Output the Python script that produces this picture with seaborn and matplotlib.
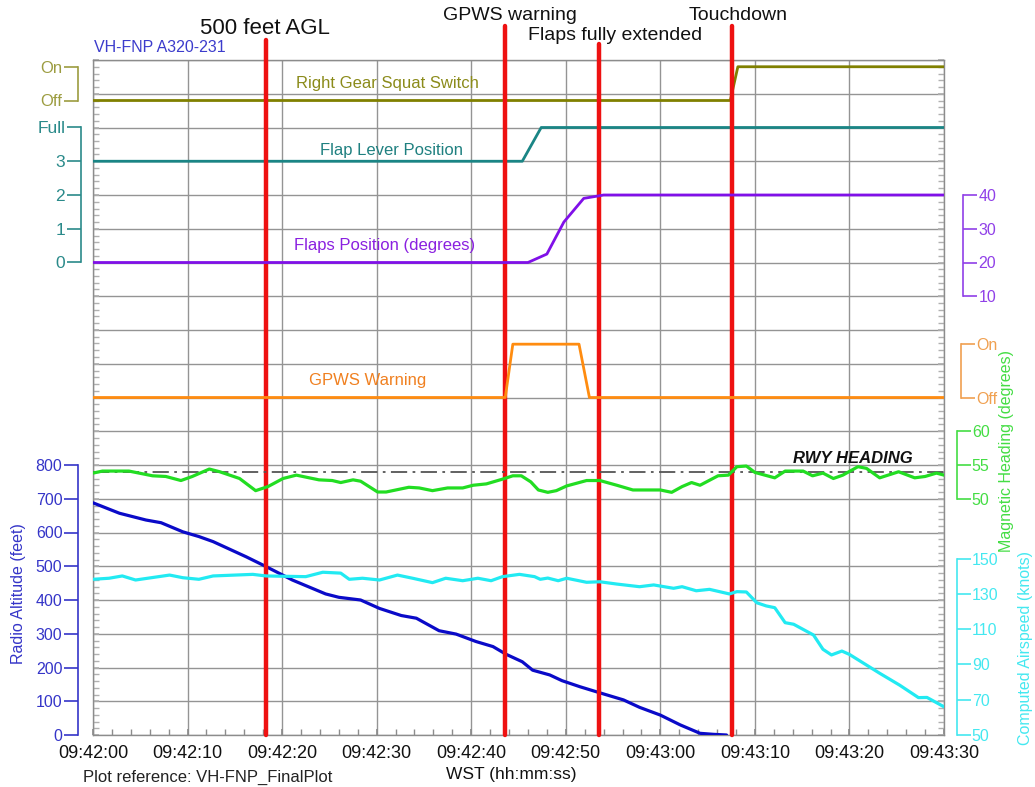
import matplotlib
matplotlib.use("Agg")
import matplotlib.pyplot as plt
from matplotlib.ticker import FuncFormatter, MultipleLocator
import seaborn as sns

# ── Data (seconds after 09:42:00) ─────────────────────────────────────────────
squat_t = [0, 67.4, 68.2, 90]
squat_v = [0, 0, 1, 1]

lever_t = [0, 45.4, 47.4, 90]
lever_v = [3, 3, 4, 4]

flaps_t = [0, 46.0, 48.0, 49.8, 51.9, 53.4, 54.0, 90]
flaps_v = [20, 20, 22.5, 32, 39, 39.7, 40, 40]

gpws_t = [0, 43.6, 44.4, 51.4, 52.5, 90]
gpws_v = [0, 0, 1, 1, 0, 0]

hdg_t = [0, 1.0, 3.8, 6.3, 7.7, 9.3, 10.5, 12.3, 13.4, 15.5,
         17.2, 18.5, 20.1, 21.5, 23.9, 25.3, 26.2, 27.5, 28.3, 30.1,
         31.0, 33.4, 34.5, 35.9, 37.5, 39.1, 40.2, 41.6, 43.3, 44.4,
         45.3, 46.3, 47.1, 48.1, 49.0, 50.1, 52.2, 53.6, 55.4, 57.1,
         60.0, 61.2, 62.3, 63.3, 64.2, 66.1, 67.2, 68.1, 69.1, 70.0,
         72.1, 73.2, 75.1, 76.1, 77.2, 78.3, 79.3, 80.9, 81.8, 83.2,
         85.2, 86.9, 88.0, 89.2, 90]
hdg_v = [53.8, 54.1, 54.1, 53.4, 53.3, 52.7, 53.3, 54.4, 54.0, 53.0,
         51.2, 51.8, 53.0, 53.5, 52.8, 52.7, 52.4, 52.8, 52.6, 51.0,
         51.0, 51.7, 51.6, 51.2, 51.6, 51.6, 52.0, 52.2, 52.9, 53.4,
         53.4, 52.5, 51.3, 50.95, 51.2, 51.9, 52.7, 52.7, 52.0, 51.3,
         51.3, 50.95, 51.8, 52.4, 52.0, 53.4, 53.5, 54.75, 54.85, 53.9,
         53.1, 54.1, 54.1, 53.4, 53.8, 53.0, 53.5, 54.75, 54.5, 53.1,
         54.0, 53.1, 53.3, 53.8, 53.5]
rwy_heading = 54.0

spd_t = [0, 1.7, 3.1, 4.5, 8.1, 9.5, 11.2, 12.7, 16.9, 18.3,
         22.5, 24.3, 26.2, 27.1, 28.5, 30.3, 32.2, 33.8, 35.9, 37.3,
         39.1, 40.7, 42.1, 43.3, 45.1, 46.7, 47.3, 48.1, 49.2, 50.1,
         52.2, 53.6, 55.4, 57.8, 59.3, 61.4, 62.3, 63.8, 65.2, 67.3,
         68.1, 69.1, 70.2, 71.2, 72.1, 73.2, 74.1, 76.2, 77.2, 78.1,
         79.2, 80.0, 83.2, 85.3, 87.3, 88.2, 90]
spd_v = [138.3, 138.9, 140.2, 137.9, 140.7, 139.2, 138.3, 140.2, 141.1, 140.2,
         139.8, 142.3, 141.8, 138.3, 138.9, 137.9, 140.7, 138.9, 136.4, 138.9,
         137.5, 138.9, 137.5, 139.8, 141.1, 139.8, 138.3, 139.0, 137.5, 138.9,
         136.6, 136.9, 135.6, 134.1, 135.1, 133.2, 134.1, 131.8, 132.6, 130.0,
         131.3, 131.1, 125.0, 123.2, 122.2, 113.7, 112.8, 106.7, 98.6, 95.4,
         97.6, 95.7, 85.0, 78.3, 71.2, 71.3, 66.0]

alt_t = [0, 2.8, 5.6, 7.2, 9.5, 11.2, 12.7, 16.2, 18.3, 21.1,
         24.6, 26.0, 28.3, 30.3, 32.6, 34.2, 36.6, 38.4, 40.5, 42.3,
         43.7, 45.4, 46.5, 48.3, 49.6, 51.5, 53.6, 56.1, 57.8, 60.0,
         62.1, 64.2, 65.6, 67.0]
alt_v = [688, 657, 637, 629, 602, 588, 573, 528, 499, 459,
         418, 408, 400, 375, 354, 346, 309, 299, 277, 262,
         239, 217, 192, 178, 161, 143, 125, 104, 82, 59,
         30, 5, 2, 0]

event_t = [18.3, 43.6, 53.5, 67.55]
event_labels = ["500 feet AGL", "GPWS warning", "Flaps fully extended", "Touchdown"]

# ── Style ─────────────────────────────────────────────────────────────────────
sns.set_theme(style="white")
plt.rcParams["font.family"] = ["Liberation Sans", "DejaVu Sans"]

W, H = 1035, 787
fig = plt.figure(figsize=(W / 100, H / 100), dpi=100)
ax = fig.add_axes([93 / W, 1 - 735 / H, 851 / W, 675 / H])
GRID = "#949494"


def trace_axis(side, offset, ylim, ticks, labels, bounds, color):
    """Twin y-axis holding one trace, with a short bracket-style spine."""
    t = ax.twinx()
    t.set_ylim(*ylim)
    for s in t.spines.values():
        s.set_visible(False)
    sp = t.spines[side]
    sp.set_visible(True)
    sp.set_position(("outward", offset))
    sp.set_bounds(*bounds)
    sp.set_color(color)
    sp.set_linewidth(1.2)
    t.yaxis.set_ticks_position(side)
    t.yaxis.set_label_position(side)
    t.set_yticks(ticks)
    t.set_yticklabels(labels)
    t.tick_params(axis="y", which="major", left=(side == "left"), right=(side == "right"),
                  direction="out", length=10, width=1.2, color=color,
                  labelcolor=color, labelsize=11.5, pad=1)
    t.grid(False)
    return t


ax_squat = trace_axis("left", 11, (-18.8, 1.2), [0, 1], ["Off", "On"], (0, 1), "#9c9c40")
ax_lever = trace_axis("left", 9, (-14, 6), [0, 1, 2, 3, 4], ["0", "1", "2", "3", "Full"], (0, 4), "#2a8a8a")
ax_alt = trace_axis("left", 11, (0, 2000), list(range(0, 801, 100)),
                    [str(v) for v in range(0, 801, 100)], (0, 800), "#3535c8")
ax_flaps = trace_axis("right", 14, (-120, 80), [10, 20, 30, 40], ["10", "20", "30", "40"], (10, 40), "#9040e8")
ax_gpws = trace_axis("right", 12, (-10 / 1.58, 10 / 1.58), [0, 1], ["Off", "On"], (0, 1), "#f0a050")
ax_hdg = trace_axis("right", 9, (15, 115), [50, 55, 60], ["50", "55", "60"], (50, 60), "#44dd44")
ax_spd = trace_axis("right", 9, (50, 50 + 20 * 19.14), list(range(50, 151, 20)),
                    [str(v) for v in range(50, 151, 20)], (50, 150), "#44e8f0")
ax_lever.tick_params(axis="y", labelsize=12.5)
ax_squat.tick_params(axis="y", labelsize=12)

# ── Traces ────────────────────────────────────────────────────────────────────
lw = 2.0
sns.lineplot(x=squat_t, y=squat_v, ax=ax_squat, color="#808000", lw=lw, estimator=None, sort=False)
sns.lineplot(x=lever_t, y=lever_v, ax=ax_lever, color="#1a8585", lw=lw, estimator=None, sort=False)
sns.lineplot(x=flaps_t, y=flaps_v, ax=ax_flaps, color="#8010e8", lw=lw, estimator=None, sort=False)
sns.lineplot(x=gpws_t, y=gpws_v, ax=ax_gpws, color="#ff8c10", lw=lw, estimator=None, sort=False)
ax_hdg.axhline(rwy_heading, color="#555555", lw=1.3, ls=(0, (9, 3, 1.5, 3)))
sns.lineplot(x=hdg_t, y=hdg_v, ax=ax_hdg, color="#22dd22", lw=2.3, estimator=None, sort=False)
sns.lineplot(x=spd_t, y=spd_v, ax=ax_spd, color="#22eaf2", lw=2.3, estimator=None, sort=False)
sns.lineplot(x=alt_t, y=alt_v, ax=ax_alt, color="#0a0ac8", lw=2.3, estimator=None, sort=False)

# in-plot trace labels
ax_squat.text(31.1, 0.5, "Right Gear Squat Switch", color="#8b8b1a", fontsize=12, ha="center", va="center")
ax_lever.text(31.6, 3.33, "Flap Lever Position", color="#1f8080", fontsize=12, ha="center", va="center")
ax_flaps.text(30.8, 25, "Flaps Position (degrees)", color="#8a20e0", fontsize=12, ha="center", va="center")
ax_gpws.text(29.0, 0.31, "GPWS Warning", color="#f08020", fontsize=12, ha="center", va="center")
ax_hdg.text(80.4, 56.0, "RWY HEADING", color="#111111", fontsize=12, fontweight="bold",
            fontstyle="italic", ha="center", va="center")

# axis titles
ax_alt.set_ylabel("Radio Altitude (feet)", color="#3535c8", fontsize=11.5)
ax_alt.yaxis.set_label_coords(-0.0787, 0.209)
ax_hdg.set_ylabel("Magnetic Heading (degrees)", color="#44dd44", fontsize=11.5)
ax_hdg.yaxis.set_label_coords(1.0646, 0.421)
ax_spd.set_ylabel("Computed Airspeed (knots)", color="#44e8f0", fontsize=11.5)
ax_spd.yaxis.set_label_coords(1.087, 0.129)
for a in (ax_squat, ax_lever, ax_flaps, ax_gpws):
    a.set_ylabel("")

# ── Time axis and grid ────────────────────────────────────────────────────────
ax.set_xlim(0, 90)
ax.set_ylim(0, 20)
ax.xaxis.set_major_locator(MultipleLocator(10))
ax.xaxis.set_minor_locator(MultipleLocator(2))
ax.xaxis.set_major_formatter(FuncFormatter(
    lambda v, p: f"09:{42 + int(round(v)) // 60:02d}:{int(round(v)) % 60:02d}"))
ax.yaxis.set_major_locator(MultipleLocator(1))
ax.yaxis.set_minor_locator(MultipleLocator(0.2))
ax.set_yticklabels([])
ax.tick_params(axis="x", which="both", bottom=True, top=False, direction="in",
               length=4, color="#8c8c8c", labelsize=13, pad=7, labelcolor="#111111")
ax.tick_params(axis="y", which="both", left=True, right=True, direction="in",
               length=4, color="#b0b0b0", labelleft=False, labelright=False)
ax.grid(True, which="major", color=GRID, lw=1.0)
for s in ax.spines.values():
    s.set_color("#8c8c8c")
    s.set_linewidth(1.0)
ax.set_xlabel("WST (hh:mm:ss)", fontsize=12.5, color="#111111")
ax.xaxis.set_label_coords(0.491, -0.048)

# ── Event markers ─────────────────────────────────────────────────────────────
line_tops = [(735 - 40) / 675, (735 - 26) / 675, (735 - 44) / 675, (735 - 26) / 675]
label_pos = [(18.2, (735 - 28) / 675, 16), (44.1, (735 - 15) / 675, 14),
             (55.2, (735 - 35) / 675, 14), (68.2, (735 - 15) / 675, 14)]
top = ax_alt
for t, ytop, lab, (lx, ly, fs) in zip(event_t, line_tops, event_labels, label_pos):
    top.axvline(t, ymin=0, ymax=ytop, color="#ee1111", lw=3.2, clip_on=False, zorder=10)
    ax.text(lx, ly, lab, transform=ax.get_xaxis_transform(), ha="center", va="center",
            fontsize=fs, color="#111111", clip_on=False)

ax.text(0.001, (735 - 47) / 675, "VH-FNP A320-231", transform=ax.transAxes,
        color="#3c3ccc", fontsize=11.5, ha="left", va="center")
fig.text(83 / W, 1 - 777 / H, "Plot reference: VH-FNP_FinalPlot", fontsize=12,
         color="#222222", ha="left", va="center")

fig.savefig("out.png", dpi=100)
